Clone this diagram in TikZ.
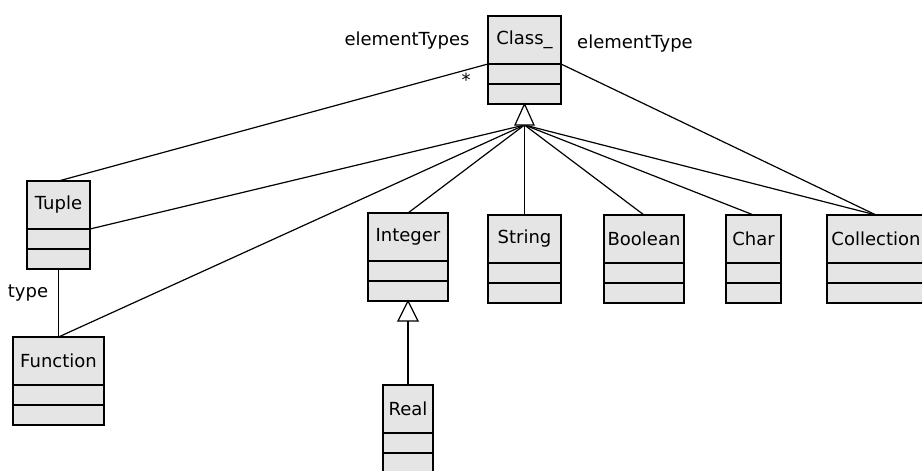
\documentclass[tikz,border=0pt]{standalone}
\usepackage{fontspec}
\setmainfont{DejaVu Sans}
\tikzset{
	umlname/.style={draw,fill=gray!20,line width=1.3pt,inner sep=0pt,outer sep=0pt,minimum height=48,anchor=north west,font=\fontsize{18}{21}\selectfont},
	umlpart/.style={draw,fill=gray!20,line width=1.3pt,inner sep=0pt,outer sep=0pt,minimum height=20,anchor=north},
	assoc/.style={line width=1.2pt},
	lbl/.style={inner sep=0pt,font=\fontsize{18}{21}\selectfont}
}
% class box: name, left x, top y, width, text
\newcommand{\umlclass}[5]{%
	\node[umlname,minimum width=#4] (#1) at (#2,#3) {#5};
	\node[umlpart,minimum width=#4] (#1a) at (#1.south) {};
	\node[umlpart,minimum width=#4] (#1o) at (#1a.south) {};
}
\begin{document}
\begin{tikzpicture}[x=1pt,y=-1pt]
		\useasboundingbox (0,0) rectangle (922,471);
		\umlclass{klass}{488}{16}{73}{Class\_}
		\umlclass{tuple}{27}{181}{63}{Tuple}
		\umlclass{func}{13}{337}{91}{Function}
		\umlclass{integer}{368}{213}{80}{Integer}
		\umlclass{real}{383}{385}{50}{Real}
		\umlclass{string}{488}{215}{73}{String}
		\umlclass{bool}{604}{215}{80}{Boolean}
		\umlclass{char}{726}{215}{55}{Char}
		\umlclass{coll}{827}{215}{98}{Collection}
		\coordinate (kgen) at ([yshift=-21pt]klasso.south);
		\coordinate (igen) at ([yshift=-20pt]integero.south);
		\draw[assoc] (kgen)--(tuple.south east);
		\draw[assoc] (kgen)--(func.north);
		\foreach \c in {integer,string,bool,char,coll}
			\draw[assoc] (kgen)--(\c.north);
		\draw[assoc] (igen)--(real.north);
		\draw[assoc,fill=white] (klasso.south)--++(-9.5,21)--++(19,0)--cycle;
		\draw[assoc,fill=white] (integero.south)--++(-10,20)--++(20,0)--cycle;
		\draw[assoc] (klass.south west)--(tuple.north);
		\draw[assoc] (klass.south east)--(coll.north);
		\draw[assoc] (tupleo.south)--(func.north);
		\node[lbl] (types) at (407,41) {elementTypes};
		\node[lbl] (star) at (466,80) {*};
		\node[lbl] (type) at (635,44) {elementType};
		\node[lbl] (fntype) at (28,293) {type};
\end{tikzpicture}
\end{document}
